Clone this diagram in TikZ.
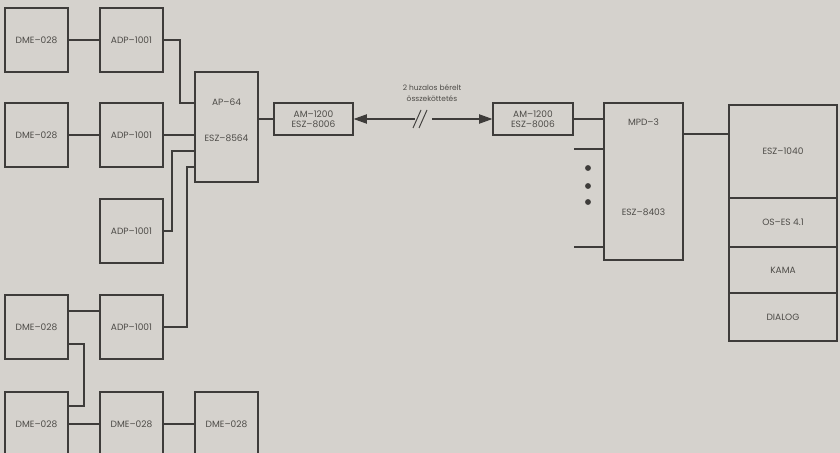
\documentclass[tikz,border=0pt]{standalone}
\usepackage{fontspec}
\setmainfont{Poppins}
\usetikzlibrary{arrows.meta}
\definecolor{bgc}{RGB}{213,210,205}
\definecolor{lc}{RGB}{62,60,58}
\definecolor{tc}{RGB}{78,76,72}
\tikzset{
  blk/.style={draw=lc, line width=0.9pt, text=tc, minimum width=47.25pt, minimum height=48pt,
    inner sep=0pt, align=center, font=\fontsize{6.8}{7.6}\selectfont},
  wire/.style={draw=lc, line width=0.9pt},
  lbl/.style={text=tc, inner sep=0pt, font=\fontsize{6.8}{7.6}\selectfont},
  tip/.style={wire, -{Triangle[length=10pt,width=7pt]}},
}

\begin{document}
\begin{tikzpicture}[x=0.75pt,y=-0.75pt]
\fill[bgc] (0,0) rectangle (840,453);
\useasboundingbox (0,0) rectangle (840,453);

%terminals
\node[blk] (dme1) at (36.5,40) {DME--028};
\node[blk] (adp1) at (131.5,40) {ADP--1001};
\node[blk] (dme2) at (36.5,135) {DME--028};
\node[blk] (adp2) at (131.5,135) {ADP--1001};
\node[blk] (adp3) at (131.5,231) {ADP--1001};
\node[blk] (dme3) at (36.5,327) {DME--028};
\node[blk] (adp4) at (131.5,327) {ADP--1001};
\node[blk] (dme4) at (36.5,424) {DME--028};
\node[blk] (dme5) at (131.5,424) {DME--028};
\node[blk] (dme6) at (226.5,424) {DME--028};

%concentrator
\node[blk, minimum height=82.5pt] (ap) at (226.5,127) {};
\node[lbl] (aptop) at (226.5,102) {AP--64};
\node[lbl] (apbot) at (226.5,138) {ESZ--8564};
\coordinate (ap1) at (195,103);
\coordinate (ap3) at (195,151);
\coordinate (ap4) at (195,167);

%modems
\node[blk, minimum width=59.25pt, minimum height=24pt] (am1) at (313.5,119) {AM--1200\\ESZ--8006};
\node[blk, minimum width=60pt, minimum height=24pt] (am2) at (533,119) {AM--1200\\ESZ--8006};

%front end
\node[blk, minimum width=59.25pt, minimum height=117.75pt] (mpd) at (643.5,181.5) {};
\node[lbl] (mpdtop) at (643.5,122) {MPD--3};
\node[lbl] (mpdbot) at (643.5,212) {ESZ--8403};
\coordinate (st1) at (574,149);
\coordinate (st2) at (574,247);
\coordinate (mpdout) at (683,134);

%host
\node[blk, minimum width=81pt, minimum height=69.75pt] (esz) at (783,151.5) {ESZ--1040};
\node[blk, minimum width=81pt, minimum height=36.75pt] (os) at (783,222.5) {OS--ES 4.1};
\node[blk, minimum width=81pt, minimum height=34.5pt] (kama) at (783,270) {KAMA};
\node[blk, minimum width=81pt, minimum height=36pt] (dialog) at (783,317) {DIALOG};

%wiring
\draw[wire] (dme1) -- (adp1);
\draw[wire] (adp1.east) -| (180,103) -- (ap1);
\draw[wire] (dme2) -- (adp2);
\draw[wire] (adp2.east) -- (adp2.east -| ap.west);
\draw[wire] (adp3.east) -| (172,151) -- (ap3);
\draw[wire] (adp4.east) -| (187,167) -- (ap4);
\draw[wire] ([yshift=12pt]dme3.east) -- ([yshift=12pt]adp4.west);
\draw[wire] ([yshift=-12.75pt]dme3.east) -| (84,406) -- ([yshift=13.5pt]dme4.east);
\draw[wire] (dme4) -- (dme5);
\draw[wire] (dme5) -- (dme6);
\draw[wire] (am1.west) -- (am1.west -| ap.east);

%leased line
\coordinate (brkL) at (415,119);
\coordinate (brkR) at (432,119);
\draw[tip] (brkL) -- (am1.east);
\draw[tip] (brkR) -- (am2.west);
\draw[wire, line width=0.7pt] (413,128) -- (421,110);
\draw[wire, line width=0.7pt] (419,128) -- (427,110);
\node[lbl, font=\fontsize{5.6}{8}\selectfont, align=center] (line) at (432,93) {2 huzalos bérelt\\összeköttetés};

\draw[wire] (am2.east) -- (am2.east -| mpd.west);
\draw[wire] (st1) -- (st1 -| mpd.west);
\draw[wire] (st2) -- (st2 -| mpd.west);
\foreach \y in {168,186,202}
  \fill[lc] (588,\y) circle (2.2pt);
\draw[wire] (mpdout) -- (mpdout -| esz.west);

\end{tikzpicture}
\end{document}
